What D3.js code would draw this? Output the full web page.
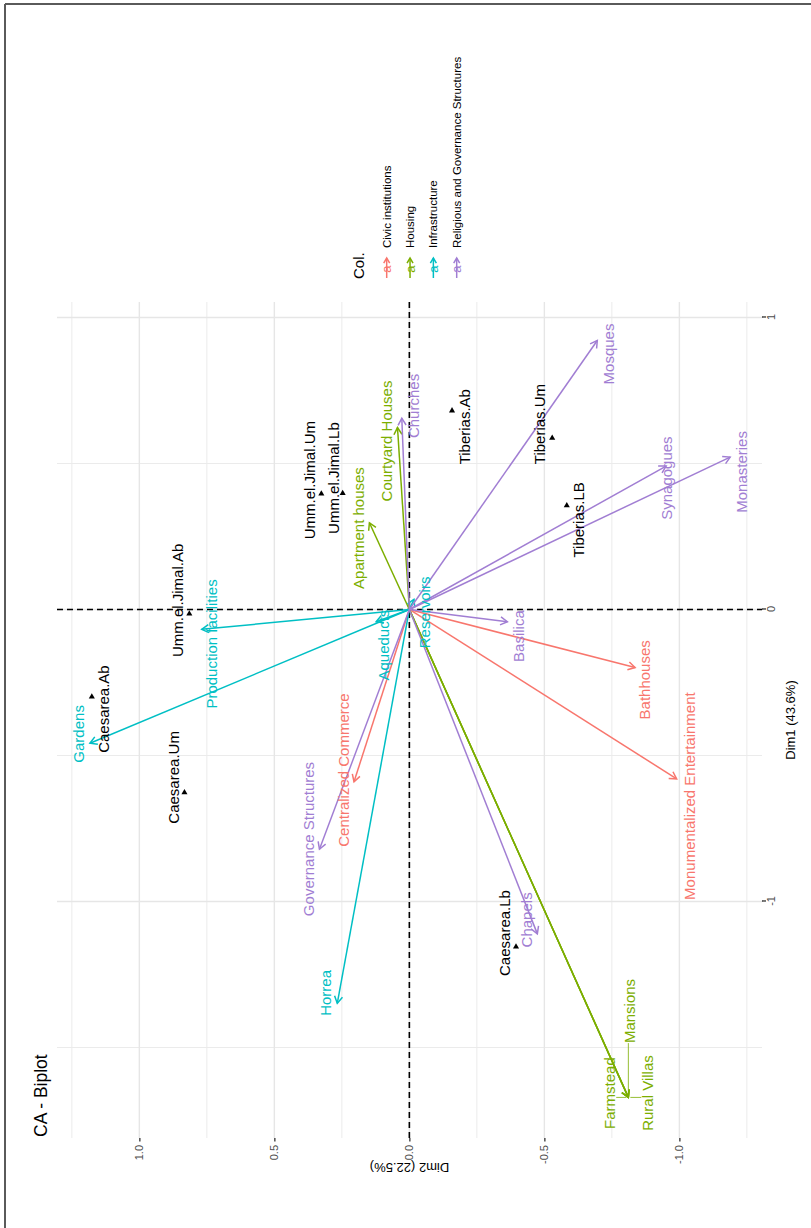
<!DOCTYPE html>
<html>
<head>
<meta charset="utf-8">
<script src="https://cdn.jsdelivr.net/npm/d3@7"></script>
<style>
  body { margin: 0; background: #fff; }
  text { font-family: "Liberation Sans", Arial, sans-serif; }
</style>
</head>
<body>
<div id="chart"></div>
<script>
// row points (sites)
let rowNames = ["Umm.el.Jimal.Um", "Umm.el.Jimal.Lb", "Umm.el.Jimal.Ab", "Tiberias.Ab", "Tiberias.Um",
                "Tiberias.LB", "Caesarea.Ab", "Caesarea.Um", "Caesarea.Lb"];
let rowDim1 = [0.396, 0.398, -0.015, 0.681, 0.587, 0.356, -0.299, -0.627, -1.155];
let rowDim2 = [0.326, 0.247, 0.815, -0.158, -0.529, -0.583, 1.176, 0.833, -0.395];
let rowLabelDim1 = [0.443, 0.450, 0.031, 0.626, 0.635, 0.307, -0.341, -0.575, -1.108];
let rowLabelDim2 = [0.370, 0.281, 0.856, -0.204, -0.484, -0.626, 1.131, 0.871, -0.352];

// column points (building types), drawn as arrows
let colNames = ["Bathhouses", "Monumentalized Entertainment", "Centralized Commerce",
                "Courtyard Houses", "Apartment houses", "Farmstead", "Mansions", "Rural Villas",
                "Gardens", "Production facilities", "Aqueducts", "Reservoirs", "Horrea",
                "Mosques", "Monasteries", "Synagogues", "Churches", "Basilica",
                "Governance Structures", "Chapels"];
let colGroup = ["Civic institutions", "Civic institutions", "Civic institutions",
                "Housing", "Housing", "Housing", "Housing", "Housing",
                "Infrastructure", "Infrastructure", "Infrastructure", "Infrastructure", "Infrastructure",
                "Religious and Governance Structures", "Religious and Governance Structures",
                "Religious and Governance Structures", "Religious and Governance Structures",
                "Religious and Governance Structures", "Religious and Governance Structures",
                "Religious and Governance Structures"];
let colDim1 = [-0.199, -0.580, -0.590, 0.623, 0.297, -1.671, -1.671, -1.671,
               -0.458, -0.068, -0.042, 0.035, -1.349, 0.921, 0.522, 0.491, 0.655, -0.042, -0.821, -1.111];
let colDim2 = [-0.836, -0.990, 0.205, 0.044, 0.148, -0.811, -0.811, -0.811,
               1.183, 0.769, 0.123, -0.017, 0.267, -0.696, -1.188, -0.951, 0.028, -0.363, 0.333, -0.474];
let colLabelDim1 = [-0.241, -0.639, -0.550, 0.577, 0.279, -1.656, -1.375, -1.656,
                    -0.426, -0.118, -0.122, -0.010, -1.313, 0.875, 0.471, 0.450, 0.697, -0.091, -0.786, -1.063];
let colLabelDim2 = [-0.873, -1.040, 0.244, 0.084, 0.189, -0.743, -0.817, -0.884,
                    1.223, 0.732, 0.096, -0.058, 0.309, -0.740, -1.231, -0.954, -0.015, -0.404, 0.374, -0.435];

let groups = ["Civic institutions", "Housing", "Infrastructure", "Religious and Governance Structures"];
let groupColors = ["#F8766D", "#7CAE00", "#00BFC4", "#A17ED3"];

let dim1Ticks = [-1, 0, 1];
let dim1Minor = [-1.5, -0.5, 0.5];
let dim2Ticks = [-1, -0.5, 0, 0.5, 1];
let dim2Minor = [-1.25, -0.75, -0.25, 0.25, 0.75, 1.25];

//page size; the plot is drawn unrotated and then turned a quarter turn
let pageW = 811, pageH = 1228;
let panel = {left: 90, right: 926, top: 57, bottom: 762};

let x = d3.scaleLinear().domain([-1.81, 1.053]).range([panel.left, panel.right]);
let y = d3.scaleLinear().domain([-1.306, 1.305]).range([panel.bottom, panel.top]);
let color = d3.scaleOrdinal().domain(groups).range(groupColors);

let svg = d3.select("#chart").append("svg")
    .attr("width", pageW)
    .attr("height", pageH)
    .style("display", "block");

svg.append("rect").attr("width", pageW).attr("height", pageH).attr("fill", "#fff");

//frame lines top and left
svg.append("line").attr("x1", 5).attr("x2", pageW).attr("y1", 4).attr("y2", 4)
    .attr("stroke", "#5a5a5a").attr("stroke-width", 2);
svg.append("line").attr("x1", 5).attr("x2", 5).attr("y1", 4).attr("y2", pageH)
    .attr("stroke", "#5a5a5a").attr("stroke-width", 2);

const g = svg.append("g")
    .attr("transform", `translate(0,${pageH}) rotate(-90)`);

//grid
g.selectAll(".minorx").data(dim1Minor).enter().append("line")
    .attr("x1", d => x(d)).attr("x2", d => x(d))
    .attr("y1", panel.top).attr("y2", panel.bottom)
    .attr("stroke", "#EBEBEB").attr("stroke-width", 1);
g.selectAll(".minory").data(dim2Minor).enter().append("line")
    .attr("x1", panel.left).attr("x2", panel.right)
    .attr("y1", d => y(d)).attr("y2", d => y(d))
    .attr("stroke", "#EBEBEB").attr("stroke-width", 1);
g.selectAll(".majorx").data(dim1Ticks).enter().append("line")
    .attr("x1", d => x(d)).attr("x2", d => x(d))
    .attr("y1", panel.top).attr("y2", panel.bottom)
    .attr("stroke", "#E6E6E6").attr("stroke-width", 1.4);
g.selectAll(".majory").data(dim2Ticks).enter().append("line")
    .attr("x1", panel.left).attr("x2", panel.right)
    .attr("y1", d => y(d)).attr("y2", d => y(d))
    .attr("stroke", "#E6E6E6").attr("stroke-width", 1.4);

//axes
const xAxis = g.append("g")
    .attr("transform", `translate(0,${panel.bottom})`)
    .call(d3.axisBottom(x).tickValues(dim1Ticks).tickFormat(d => String(d))
        .tickSize(4).tickSizeOuter(0).tickPadding(1.5));
const yAxis = g.append("g")
    .attr("transform", `translate(${panel.left},0)`)
    .call(d3.axisLeft(y).tickValues(dim2Ticks).tickFormat(d => d.toFixed(1))
        .tickSize(3.5).tickSizeOuter(0).tickPadding(3.5));
[xAxis, yAxis].forEach(a => {
    a.select(".domain").remove();
    a.selectAll(".tick line").attr("stroke", "#333").attr("stroke-width", 1.3);
    a.selectAll(".tick text").attr("fill", "#4D4D4D").style("font-size", "11px")
        .style("font-family", '"Liberation Sans", Arial, sans-serif');
});

//dashed zero lines
g.append("line")
    .attr("x1", x(0)).attr("x2", x(0)).attr("y1", panel.top).attr("y2", panel.bottom)
    .attr("stroke", "#000").attr("stroke-width", 1.6).attr("stroke-dasharray", "6,4");
g.append("line")
    .attr("x1", panel.left).attr("x2", panel.right).attr("y1", y(0)).attr("y2", y(0))
    .attr("stroke", "#000").attr("stroke-width", 1.6).attr("stroke-dasharray", "6,4");

function arrowHead(x1, y1, x2, y2, len, ang) {
    const a = Math.atan2(y2 - y1, x2 - x1);
    return `M${x2 - len * Math.cos(a - ang)},${y2 - len * Math.sin(a - ang)}` +
           `L${x2},${y2}` +
           `L${x2 - len * Math.cos(a + ang)},${y2 - len * Math.sin(a + ang)}`;
}

let cols = colNames.map((n, i) => ({
    name: n, group: colGroup[i], d1: colDim1[i], d2: colDim2[i],
    l1: colLabelDim1[i], l2: colLabelDim2[i]
}));
let rows = rowNames.map((n, i) => ({
    name: n, d1: rowDim1[i], d2: rowDim2[i], l1: rowLabelDim1[i], l2: rowLabelDim2[i]
}));

//arrows
const arrows = g.selectAll(".arrow").data(cols).enter().append("g");
arrows.append("line")
    .attr("x1", x(0)).attr("y1", y(0))
    .attr("x2", d => x(d.d1)).attr("y2", d => y(d.d2))
    .attr("stroke", d => color(d.group)).attr("stroke-width", 1.5);
arrows.append("path")
    .attr("d", d => arrowHead(x(0), y(0), x(d.d1), y(d.d2), 8, Math.PI / 6))
    .attr("fill", "none")
    .attr("stroke", d => color(d.group)).attr("stroke-width", 1.5);

//row points
g.selectAll(".pt").data(rows).enter().append("path")
    .attr("d", d3.symbol().type(d3.symbolTriangle).size(16))
    .attr("transform", d => `translate(${x(d.d1)},${y(d.d2)}) rotate(90)`)
    .attr("fill", "#000");

//labels, with a leader segment when the label sits away from its point
function addLabels(data, fill) {
    data.forEach(d => {
        const t = g.append("text")
            .attr("x", x(d.l1)).attr("y", y(d.l2)).attr("dy", "0.35em")
            .attr("text-anchor", "middle")
            .style("font-size", "15px")
            .attr("fill", fill(d))
            .text(d.name);
        const b = t.node().getBBox();
        const px = x(d.d1), py = y(d.d2);
        const nx = Math.max(b.x, Math.min(px, b.x + b.width));
        const ny = Math.max(b.y + 2, Math.min(py, b.y + b.height - 2));
        const dist = Math.hypot(px - nx, py - ny);
        if (dist > 7) {
            const k = (dist - 2) / dist;
            g.append("line")
                .attr("x1", nx).attr("y1", ny)
                .attr("x2", nx + (px - nx) * k).attr("y2", ny + (py - ny) * k)
                .attr("stroke", fill(d)).attr("stroke-width", 0.8);
        }
    });
}
addLabels(cols, d => color(d.group));
addLabels(rows, () => "#000");

//axis titles and plot title
g.append("text")
    .attr("x", (panel.left + panel.right) / 2).attr("y", 790).attr("dy", "0.35em")
    .attr("text-anchor", "middle").style("font-size", "13px")
    .text("Dim1 (43.6%)");
g.append("text")
    .attr("transform", `translate(60,${(panel.top + panel.bottom) / 2}) rotate(-90)`)
    .attr("dy", "0.35em")
    .attr("text-anchor", "middle").style("font-size", "13px")
    .text("Dim2 (22.5%)");
g.append("text")
    .attr("x", panel.left + 1).attr("y", 40.5).attr("dy", "0.35em")
    .style("font-size", "17.5px")
    .text("CA - Biplot");

//legend
const legend = g.append("g");
legend.append("text")
    .attr("x", 949).attr("y", 359).attr("dy", "0.35em")
    .style("font-size", "15px")
    .text("Col.");
const keyY = d3.scalePoint().domain(groups).range([386.7, 456.7]);
const keys = legend.selectAll(".key").data(groups).enter().append("g")
    .attr("transform", d => `translate(0,${keyY(d)})`);
keys.append("line")
    .attr("x1", 950).attr("x2", 970).attr("y1", 0).attr("y2", 0)
    .attr("stroke", d => color(d)).attr("stroke-width", 1.5);
keys.append("path")
    .attr("d", arrowHead(950, 0, 970, 0, 6, Math.PI / 6))
    .attr("fill", "none")
    .attr("stroke", d => color(d)).attr("stroke-width", 1.5);
keys.append("text")
    .attr("x", 959).attr("y", 0).attr("dy", "0.35em")
    .attr("text-anchor", "middle")
    .style("font-size", "13px")
    .attr("fill", d => color(d))
    .text("a");
keys.append("text")
    .attr("x", 980).attr("y", 0).attr("dy", "0.35em")
    .style("font-size", "11.5px")
    .text(d => d);
</script>
</body>
</html>
